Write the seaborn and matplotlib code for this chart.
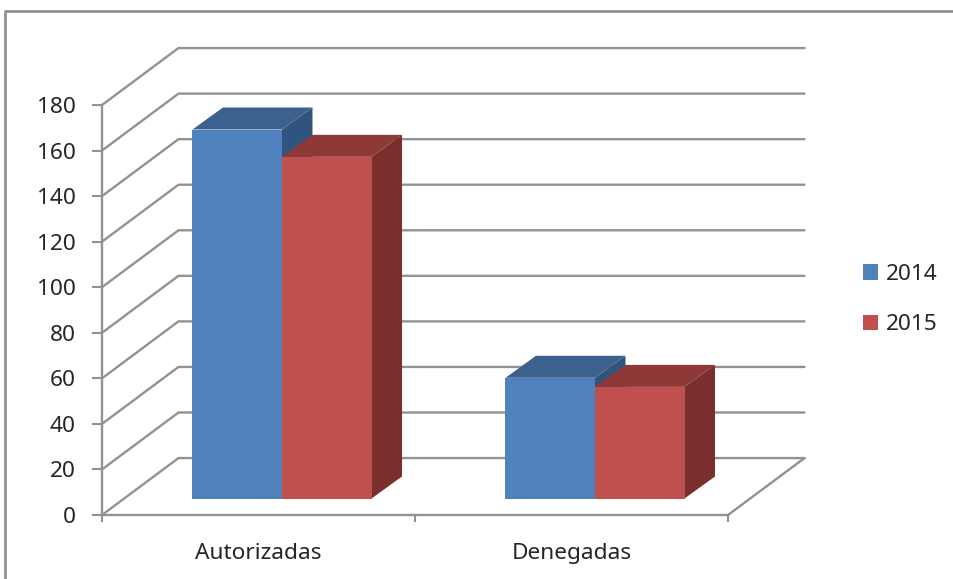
import pandas as pd
import seaborn as sns
import matplotlib.pyplot as plt

# Dados do grafico
categorias = ['Autorizadas', 'Denegadas']
anos = ['2014', '2015']
valores_2014 = [162, 53]
valores_2015 = [150, 49]
ticks_y = list(range(0, 181, 20))

# Cores
cores = {'2014': '#4F81BD', '2015': '#C0504D'}
cores_topo = {'2014': '#3C618F', '2015': '#8E3937'}
cores_lado = {'2014': '#31547E', '2015': '#7B2F2D'}
cinza = '#929292'
cor_texto = '#262626'

# Tamanho da figura em pixels
W, H = 954, 579
FONTE = 16.3

# Retangulo do plano frontal em pixels
X0, X1, Y0, Y1 = 102, 728, 515, 105

# Profundidade da parede (unidades dos eixos) e das barras
PAREDE_DX, PAREDE_DY = 0.2444, 25
BARRA_DX, BARRA_DY = 0.0974, 9.66

# Deslocamento das barras em relacao ao plano frontal (pixels)
DESLOC_X, DESLOC_Y = 23.5, 16.5

sns.set_theme(style='white')
plt.rcParams['font.family'] = ['Noto Sans', 'DejaVu Sans']

df = pd.DataFrame({
    'categoria': categorias * 2,
    'ano': [anos[0]] * 2 + [anos[1]] * 2,
    'valor': valores_2014 + valores_2015,
})

fig = plt.figure(figsize=(W / 100, H / 100), dpi=100)
fig.patch.set_facecolor('white')

ax = fig.add_axes([X0 / W, 1 - Y0 / H, (X1 - X0) / W, (Y0 - Y1) / H])
ax_barras = fig.add_axes([(X0 + DESLOC_X) / W, 1 - (Y0 - DESLOC_Y) / H, (X1 - X0) / W, (Y0 - Y1) / H])
ax_barras.patch.set_visible(False)

# Moldura do grafico
fig.add_artist(plt.Line2D([5.5 / W, 5.5 / W, 1], [0, 1 - 10.5 / H, 1 - 10.5 / H], color=cinza, lw=2))

# Eixos do plano frontal
ax.set_xlim(-0.5, 1.5)
ax.set_ylim(0, 180)
ax.set_yticks(ticks_y)
ax.set_xticks(range(len(categorias)))
ax.set_xticklabels(categorias)
ax.set_xticks([-0.5, 0.5, 1.5], minor=True)
sns.despine(ax=ax)
for lado in ['left', 'bottom']:
    ax.spines[lado].set_color(cinza)
    ax.spines[lado].set_linewidth(1.7)
ax.tick_params(axis='y', length=7, width=1.5, color=cinza, labelsize=FONTE, labelcolor=cor_texto, pad=12, left=True)
ax.tick_params(axis='x', which='major', length=0, labelsize=FONTE, labelcolor=cor_texto, pad=20)
ax.tick_params(axis='x', which='minor', length=5, width=1.5, color=cinza, bottom=True)

# Linhas de grade em perspectiva
for t in ticks_y:
    ax.plot([-0.5, -0.5 + PAREDE_DX, 1.5 + PAREDE_DX], [t, t + PAREDE_DY, t + PAREDE_DY],
            color=cinza, lw=1.7, clip_on=False, zorder=1)
ax.plot([1.5, 1.5 + PAREDE_DX], [0, PAREDE_DY], color=cinza, lw=1.7, clip_on=False, zorder=1)

# Faces frontais das barras
sns.barplot(data=df, x='categoria', y='valor', hue='ano', palette=cores, order=categorias,
            hue_order=anos, width=0.572, gap=0, saturation=1, linewidth=0, ax=ax_barras, zorder=5)
ax_barras.set_xlim(-0.5, 1.5)
ax_barras.set_ylim(0, 180)

# Topo e lateral de cada barra
for ano, barras in zip(anos, ax_barras.containers):
    for barra in barras:
        x_a = barra.get_x()
        x_b = x_a + barra.get_width()
        h = barra.get_height()
        ax_barras.fill([x_b, x_b + BARRA_DX, x_b + BARRA_DX, x_b], [0, BARRA_DY, h + BARRA_DY, h],
                       color=cores_lado[ano], lw=0, clip_on=False, zorder=3)
        ax_barras.fill([x_a, x_b, x_b + BARRA_DX, x_a + BARRA_DX], [h, h, h + BARRA_DY, h + BARRA_DY],
                       color=cores_topo[ano], lw=0, clip_on=False, zorder=3)

ax_barras.set_xlim(-0.5, 1.5)
ax_barras.set_ylim(0, 180)

# Legenda
ax_barras.legend(title=None, frameon=False, loc='upper left', bbox_to_anchor=(863 / W, 1 - 264 / H),
                 bbox_transform=fig.transFigure, fontsize=FONTE, labelcolor=cor_texto, borderpad=0,
                 borderaxespad=0, handlelength=0.66, handleheight=0.66, handletextpad=0.36, labelspacing=1.3)
ax_barras.set_axis_off()

plt.savefig('out.png', dpi=100)
